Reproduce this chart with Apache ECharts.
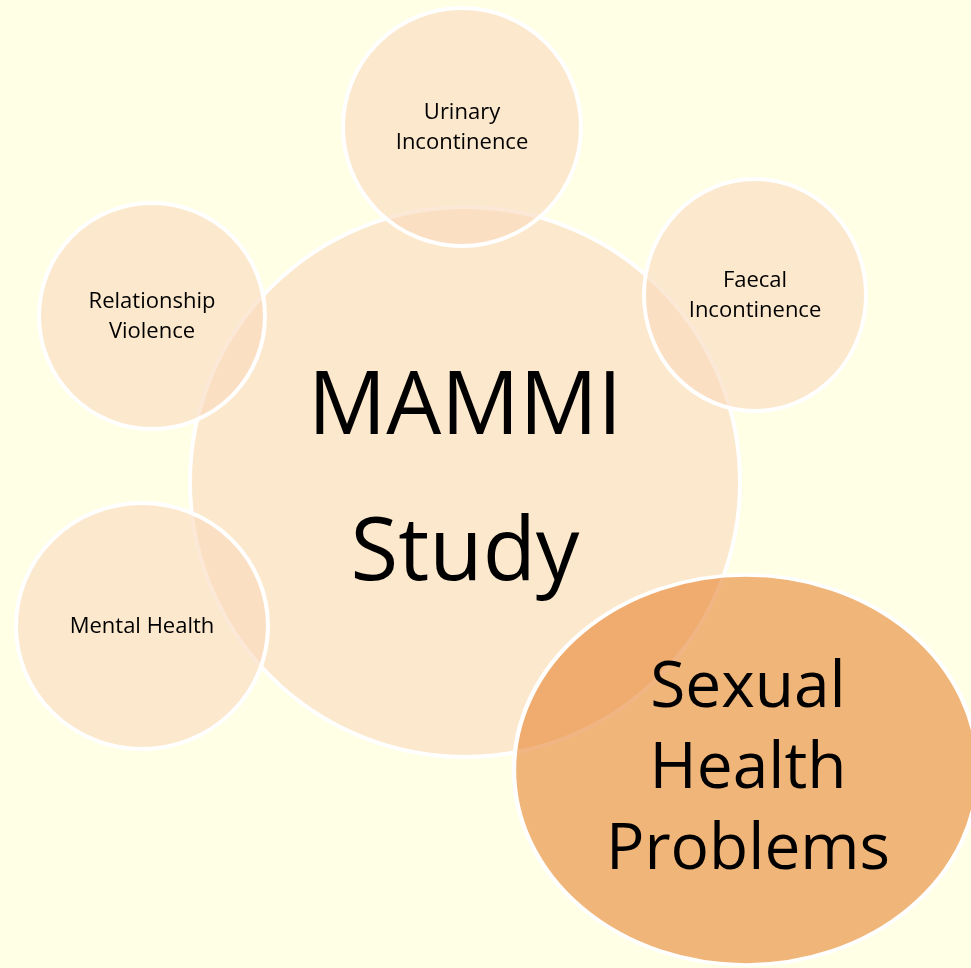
<!DOCTYPE html>
<html>
<head>
<meta charset="utf-8">
<style>
html,body{margin:0;padding:0;background:#FFFFE5;}
#chart{width:971px;height:968px;}
</style>
<script src="https://cdn.jsdelivr.net/npm/echarts@6/dist/echarts.min.js"></script>
</head>
<body>
<div id="chart"></div>
<script>
// Diagram data: node labels, node centres and node diameters (in diagram units)
var nodeNames = ['MAMMI\nStudy', 'Urinary\nIncontinence', 'Faecal\nIncontinence', 'Relationship\nViolence', 'Mental Health', 'Sexual\nHealth\nProblems'];
var nodeX = [465, 462, 755, 152, 142, 746];
var nodeY = [482, 127, 295, 316, 626, 770];
var nodeW = [550, 238, 222, 226, 252, 464];
var nodeH = [550, 238, 232, 226, 246, 390];

// Styles (kept apart from data)
var lightFill = 'rgba(250,218,189,0.62)';
var strongFill = 'rgba(230,132,46,0.6)';
var fillByNode = [lightFill, lightFill, lightFill, lightFill, lightFill, strongFill];
var fontByNode = [87, 22, 22, 22, 22, 64];
var lineByNode = [146, 30, 30, 30, 30, 81];
var offsetByNode = [[0, 0], [0, 1], [0, 1], [0, 1], [0, 1], [2, 0]];

var data = nodeNames.map(function (n, i) {
  return {
    name: n,
    value: [nodeX[i], nodeY[i]],
    symbolSize: [nodeW[i], nodeH[i]],
    itemStyle: { color: fillByNode[i], borderColor: '#ffffff', borderWidth: 4, opacity: 1 },
    label: {
      show: true,
      position: 'inside',
      offset: offsetByNode[i],
      formatter: '{b}',
      color: '#000000',
      opacity: 1,
      fontFamily: 'Open Sans',
      fontSize: fontByNode[i],
      lineHeight: lineByNode[i],
      align: 'center'
    }
  };
});

var chart = echarts.init(document.getElementById('chart'), null, { renderer: 'canvas' });
chart.setOption({
  backgroundColor: '#FFFFE5',
  animation: false,
  grid: { left: 0, right: 0, top: 0, bottom: 0 },
  xAxis: { type: 'value', min: 0, max: 971, show: false },
  yAxis: { type: 'value', min: 0, max: 968, inverse: true, show: false },
  series: [{
    type: 'scatter',
    symbol: 'circle',
    itemStyle: { opacity: 1 },
    data: data,
    silent: true,
    emphasis: { disabled: true }
  }]
});
</script>
</body>
</html>
